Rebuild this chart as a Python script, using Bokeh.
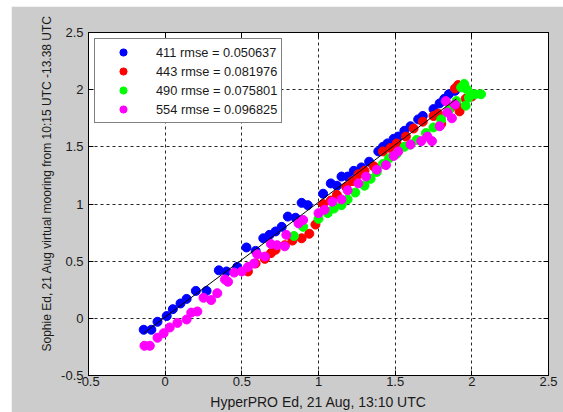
from bokeh.plotting import figure
from bokeh.models import Range1d, FixedTicker, LinearAxis, Title, CustomJSTickFormatter
from bokeh.embed import file_html
from bokeh.resources import INLINE

# ---- data ----
tick_vals = [-0.5, 0, 0.5, 1, 1.5, 2, 2.5]
tick_labels = ["-0.5", "0", "0.5", "1", "1.5", "2", "2.5"]

series_names = ["411 rmse = 0.050637", "443 rmse = 0.081976",
                "490 rmse = 0.075801", "554 rmse = 0.096825"]
series_colors = ["#0000ff", "#ff0000", "#00ff00", "#ff00ff"]

x411 = [-0.14, -0.09, -0.05, 0.01, 0.05, 0.10, 0.14, 0.20, 0.27, 0.35, 0.40, 0.47, 0.53, 0.59,
        0.64, 0.68, 0.72, 0.76, 0.80, 0.85, 0.89, 0.93, 1.03, 1.08, 1.12, 1.15, 1.19, 1.23,
        1.28, 1.33, 1.39, 1.42, 1.45, 1.49, 1.52, 1.56, 1.60, 1.65, 1.68, 1.75, 1.79, 1.82,
        1.85, 1.89]
y411 = [-0.10, -0.10, -0.03, 0.02, 0.08, 0.13, 0.17, 0.24, 0.24, 0.42, 0.41, 0.45, 0.62, 0.59,
        0.70, 0.73, 0.76, 0.80, 0.89, 0.88, 1.01, 0.99, 1.09, 1.18, 1.16, 1.24, 1.24, 1.29,
        1.32, 1.37, 1.46, 1.50, 1.53, 1.57, 1.59, 1.64, 1.68, 1.74, 1.77, 1.83, 1.88, 1.92,
        1.96, 1.99]

x443 = [0.54, 0.59, 0.65, 0.69, 0.72, 0.78, 0.83, 0.89, 0.94, 0.98, 1.03, 1.08, 1.12, 1.18,
        1.22, 1.26, 1.30, 1.36, 1.42, 1.47, 1.51, 1.57, 1.62, 1.68, 1.75, 1.78, 1.80, 1.86,
        1.89, 1.91, 1.90, 1.92, 1.96, 2.00]
y443 = [0.41, 0.48, 0.52, 0.57, 0.60, 0.64, 0.68, 0.70, 0.74, 0.82, 1.00, 1.03, 1.08, 1.15,
        1.20, 1.26, 1.29, 1.33, 1.46, 1.49, 1.53, 1.59, 1.66, 1.72, 1.77, 1.79, 1.70, 1.84,
        2.01, 2.04, 1.87, 1.81, 1.92, 1.94]

x490 = [0.84, 0.90, 1.00, 1.06, 1.10, 1.15, 1.19, 1.24, 1.30, 1.34, 1.38, 1.42, 1.46, 1.51,
        1.56, 1.60, 1.64, 1.70, 1.75, 1.80, 1.85, 1.90, 1.93, 1.95, 1.97, 2.02, 2.06, 1.96, 1.98]
y490 = [0.72, 0.80, 0.87, 0.92, 0.96, 0.99, 1.04, 1.10, 1.16, 1.22, 1.28, 1.35, 1.40, 1.44,
        1.50, 1.52, 1.56, 1.62, 1.67, 1.74, 1.82, 1.90, 2.02, 2.05, 2.00, 1.96, 1.96, 1.86, 1.93]

x554 = [-0.135, -0.10, -0.05, -0.01, 0.03, 0.08, 0.14, 0.17, 0.21, 0.25, 0.30, 0.34, 0.39,
        0.41, 0.45, 0.50, 0.54, 0.58, 0.60, 0.65, 0.69, 0.73, 0.78, 0.79, 0.87, 0.90, 1.00,
        1.04, 1.09, 1.15, 1.19, 1.26, 1.31, 1.38, 1.44, 1.49, 1.52, 1.60, 1.67, 1.71, 1.74,
        1.79, 1.84, 1.83, 1.87, 1.89]
y554 = [-0.24, -0.24, -0.17, -0.13, -0.08, -0.04, -0.01, 0.05, 0.06, 0.18, 0.16, 0.22, 0.34,
        0.32, 0.40, 0.41, 0.45, 0.48, 0.56, 0.54, 0.65, 0.64, 0.63, 0.73, 0.83, 0.86, 0.92,
        0.95, 1.02, 1.04, 1.12, 1.18, 1.24, 1.30, 1.34, 1.42, 1.46, 1.52, 1.55, 1.59, 1.55,
        1.68, 1.80, 1.90, 1.75, 1.87]

fit_x = [-0.14, 1.90]
fit_y = [-0.13, 1.92]

xs = [x411, x443, x490, x554]
ys = [y411, y443, y490, y554]

FONT = "Liberation Sans"
TXT = "#1a1a1a"

p = figure(width=552, height=406, x_range=Range1d(-0.5, 2.5), y_range=Range1d(-0.5, 2.5),
           output_backend="svg", toolbar_location=None,
           min_border_left=77, min_border_right=15, min_border_top=26, min_border_bottom=37)
p.margin = (6, 0, 0, 11)
p.border_fill_color = "#cccccc"
p.background_fill_color = "white"
p.outline_line_color = "black"
p.outline_line_width = 1

overrides = {v: l for v, l in zip(tick_vals, tick_labels)}
empty = CustomJSTickFormatter(code="return ''")
p.add_layout(LinearAxis(formatter=empty, major_label_standoff=0), "right")
p.add_layout(LinearAxis(formatter=empty, major_label_standoff=0), "above")

for ax in p.xaxis + p.yaxis:
    ax.ticker = FixedTicker(ticks=tick_vals)
    ax.major_tick_in = 5
    ax.major_tick_out = 0
    ax.minor_tick_line_color = None
    ax.axis_line_color = "black"
    ax.major_tick_line_color = "black"
    ax.major_label_text_font = FONT
    ax.major_label_text_font_size = "13px"
    ax.major_label_text_color = TXT

p.below[0].major_label_overrides = overrides
p.left[0].major_label_overrides = overrides
p.below[0].major_label_standoff = 1
p.left[0].major_label_standoff = 5
p.below[0].axis_label = "HyperPRO Ed, 21 Aug, 13:10 UTC"
p.below[0].axis_label_text_font = FONT
p.below[0].axis_label_text_font_size = "14px"
p.below[0].axis_label_text_font_style = "normal"
p.below[0].axis_label_text_color = TXT
p.below[0].axis_label_standoff = 5

ytitle = Title(text="Sophie Ed, 21 Aug virtual mooring from 10:15 UTC -13.38 UTC",
               align="left", offset=24, text_font=FONT, text_font_size="12px",
               text_font_style="normal", text_color=TXT, standoff=10)
p.add_layout(ytitle, "left")

p.grid.grid_line_color = "black"
p.grid.grid_line_alpha = 0.85
p.grid.grid_line_dash = "3 3"
p.grid.grid_line_width = 1

for x, y, c, n in zip(xs, ys, series_colors, series_names):
    p.scatter(x, y, size=9, color=c, line_color=c, legend_label=n)

p.line(fit_x, fit_y, line_color="black", line_width=1)

lg = p.legend[0]
lg.location = "top_left"
lg.margin = 6
lg.padding = 4
lg.spacing = 1
lg.label_height = 18
lg.glyph_height = 18
lg.glyph_width = 48
lg.label_standoff = 9
lg.border_line_color = "black"
lg.border_line_width = 1
lg.background_fill_color = "white"
lg.background_fill_alpha = 1
lg.label_text_font = FONT
lg.label_text_font_size = "12.8px"
lg.label_text_color = TXT

open("out.html", "w").write(file_html(p, INLINE))
